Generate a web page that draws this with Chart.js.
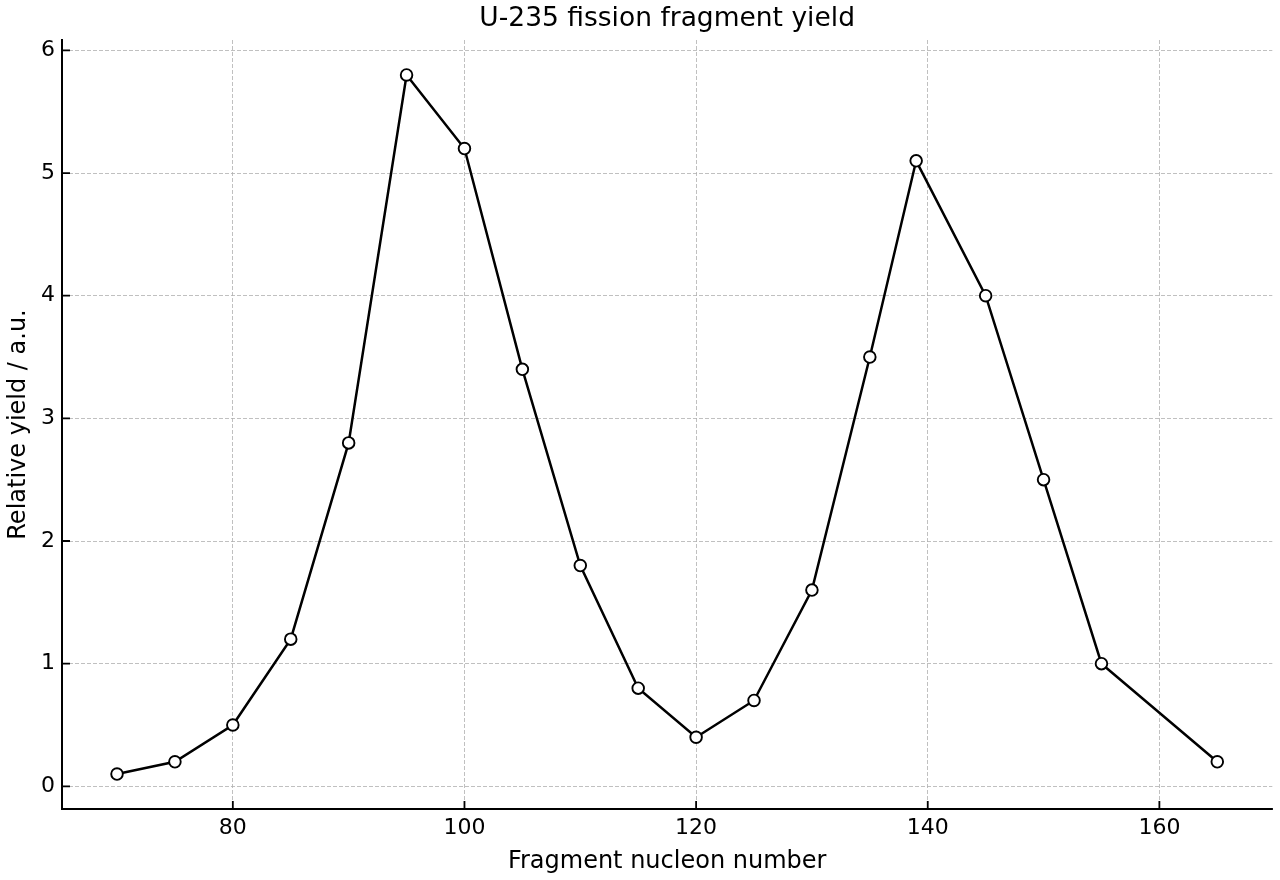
<!DOCTYPE html>
<html>
<head>
<meta charset="utf-8">
<script src="https://cdn.jsdelivr.net/npm/chart.js@4"></script>
<style>
  html, body { margin: 0; padding: 0; background: #fff; }
  #wrap { width: 1280px; height: 880px; }
</style>
</head>
<body>
<div id="wrap"><canvas id="chart" width="1280" height="880"></canvas></div>
<script>
// nucleon number of the fragment / relative yield
const massNumbers = [70, 75, 80, 85, 90, 95, 100, 105, 110, 115, 120, 125, 130, 135, 139, 145, 150, 155, 165];
const yields = [0.1, 0.2, 0.5, 1.2, 2.8, 5.8, 5.2, 3.4, 1.8, 0.8, 0.4, 0.7, 1.6, 3.5, 5.1, 4.0, 2.5, 1.0, 0.2];
const xTicks = [80, 100, 120, 140, 160];
const yTicks = [0, 1, 2, 3, 4, 5, 6];

const chartTitle = "U-235 fission fragment yield";
const xLabel = "Fragment nucleon number";
const yLabel = "Relative yield / a.u.";

const font = "DejaVu Sans";

// matplotlib-style inward ticks + title centred over the plot area
const mplPlugin = {
  id: "mpl",
  afterDraw(chart) {
    const ctx = chart.ctx;
    const area = chart.chartArea;
    const x = chart.scales.x, y = chart.scales.y;
    ctx.save();
    ctx.strokeStyle = "#000";
    ctx.lineWidth = 1.8;
    ctx.beginPath();
    xTicks.forEach((v) => {
      const px = x.getPixelForValue(v);
      ctx.moveTo(px, area.bottom);
      ctx.lineTo(px, area.bottom - 8);
    });
    yTicks.forEach((v) => {
      const py = y.getPixelForValue(v);
      ctx.moveTo(area.left, py);
      ctx.lineTo(area.left + 8, py);
    });
    ctx.stroke();

    ctx.fillStyle = "#000";
    ctx.font = `26.5px "${font}"`;
    ctx.textAlign = "center";
    ctx.textBaseline = "middle";
    ctx.fillText(chartTitle, (area.left + area.right) / 2, 19);
    ctx.restore();
  },
};

new Chart(document.getElementById("chart"), {
  type: "line",
  data: {
    datasets: [
      {
        data: massNumbers.map((m, i) => ({ x: m, y: yields[i] })),
        borderColor: "#000",
        borderWidth: 2.5,
        pointRadius: 5.8,
        pointBorderWidth: 1.9,
        pointBackgroundColor: "#fff",
        pointBorderColor: "#000",
        tension: 0,
      },
    ],
  },
  options: {
    responsive: false,
    animation: false,
    layout: { padding: { top: 40, right: 7, left: 0, bottom: 0 } },
    plugins: {
      legend: { display: false },
      tooltip: { enabled: false },
      title: { display: false },
    },
    scales: {
      x: {
        type: "linear",
        min: 65.25,
        max: 169.75,
        afterFit: (s) => { s.height = 71; },
        afterBuildTicks: (s) => { s.ticks = xTicks.map((v) => ({ value: v })); },
        ticks: { font: { family: font, size: 22 }, color: "#000", padding: 6 },
        grid: { color: "#b0b0b0", lineWidth: 0.8, drawTicks: false },
        border: { color: "#000", width: 2, dash: [4, 2] },
        title: {
          display: true,
          text: xLabel,
          font: { family: font, size: 24 },
          color: "#000",
          padding: { top: 0, bottom: 4 },
        },
      },
      y: {
        type: "linear",
        min: -0.185,
        max: 6.085,
        afterFit: (s) => { s.width = 62; },
        afterBuildTicks: (s) => { s.ticks = yTicks.map((v) => ({ value: v })); },
        ticks: { font: { family: font, size: 22 }, color: "#000", padding: 7 },
        grid: { color: "#b0b0b0", lineWidth: 0.8, drawTicks: false },
        border: { color: "#000", width: 2, dash: [4, 2] },
        title: {
          display: true,
          text: yLabel,
          font: { family: font, size: 24 },
          color: "#000",
          padding: { top: 4, bottom: 0 },
        },
      },
    },
  },
  plugins: [mplPlugin],
});
</script>
</body>
</html>
